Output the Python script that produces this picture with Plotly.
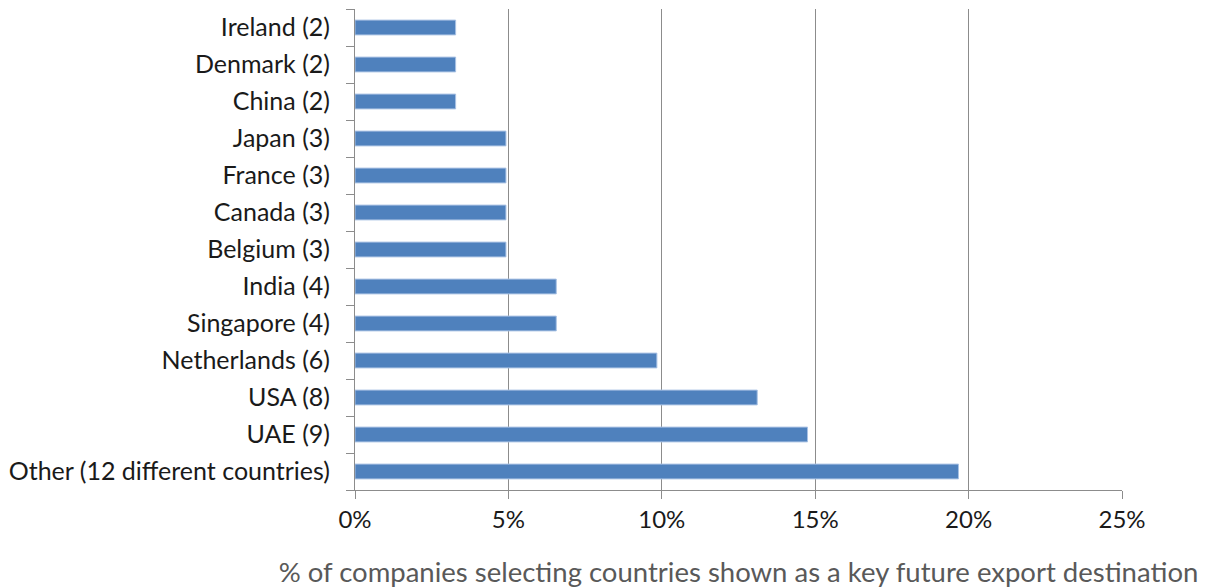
import plotly.graph_objects as go

# Destinations, listed bottom to top
countries = [
    "Other (12 different countries)", "UAE (9)", "USA (8)", "Netherlands (6)",
    "Singapore (4)", "India (4)", "Belgium (3)", "Canada (3)", "France (3)",
    "Japan (3)", "China (2)", "Denmark (2)", "Ireland (2)",
]
share_pct = [19.67, 14.75, 13.11, 9.84, 6.56, 6.56, 4.92, 4.92, 4.92, 4.92, 3.28, 3.28, 3.28]
x_ticks = [0, 5, 10, 15, 20, 25]
x_title = "% of companies selecting countries shown as a key future export destination"

FONT = "Lato, 'Open Sans', sans-serif"
AXIS_GREY = "#8c8c8c"

fig = go.Figure(
    go.Bar(
        x=share_pct,
        y=countries,
        orientation="h",
        marker=dict(color="#4f81bd", line=dict(color="#a9c2e4", width=1)),
        hoverinfo="x+y",
    )
)

fig.update_layout(
    width=1206,
    height=588,
    margin=dict(l=355, r=84, t=9, b=98),
    paper_bgcolor="white",
    plot_bgcolor="white",
    bargap=0.6,
    showlegend=False,
    font=dict(family=FONT, size=25, color="#1a1a1a"),
)

fig.update_xaxes(
    range=[0, 25],
    tickvals=x_ticks,
    ticktext=[f"{v}%" for v in x_ticks],
    showgrid=True,
    gridcolor=AXIS_GREY,
    gridwidth=1,
    showline=True,
    linecolor=AXIS_GREY,
    linewidth=1,
    ticks="outside",
    ticklen=8,
    tickcolor=AXIS_GREY,
    zeroline=False,
    automargin=False,
    tickfont=dict(size=24, family=FONT, color="#1a1a1a"),
    title=dict(text=x_title, font=dict(size=27.5, family=FONT, color="#595959"), standoff=30),
)

fig.update_yaxes(
    type="category",
    categoryorder="array",
    categoryarray=countries,
    showgrid=False,
    showline=True,
    linecolor=AXIS_GREY,
    linewidth=1,
    ticks="outside",
    tickson="boundaries",
    ticklen=8,
    tickcolor=AXIS_GREY,
    ticklabelstandoff=19,
    automargin=False,
    tickfont=dict(size=25, family=FONT, color="#1a1a1a"),
)

fig.write_html("out.html")
